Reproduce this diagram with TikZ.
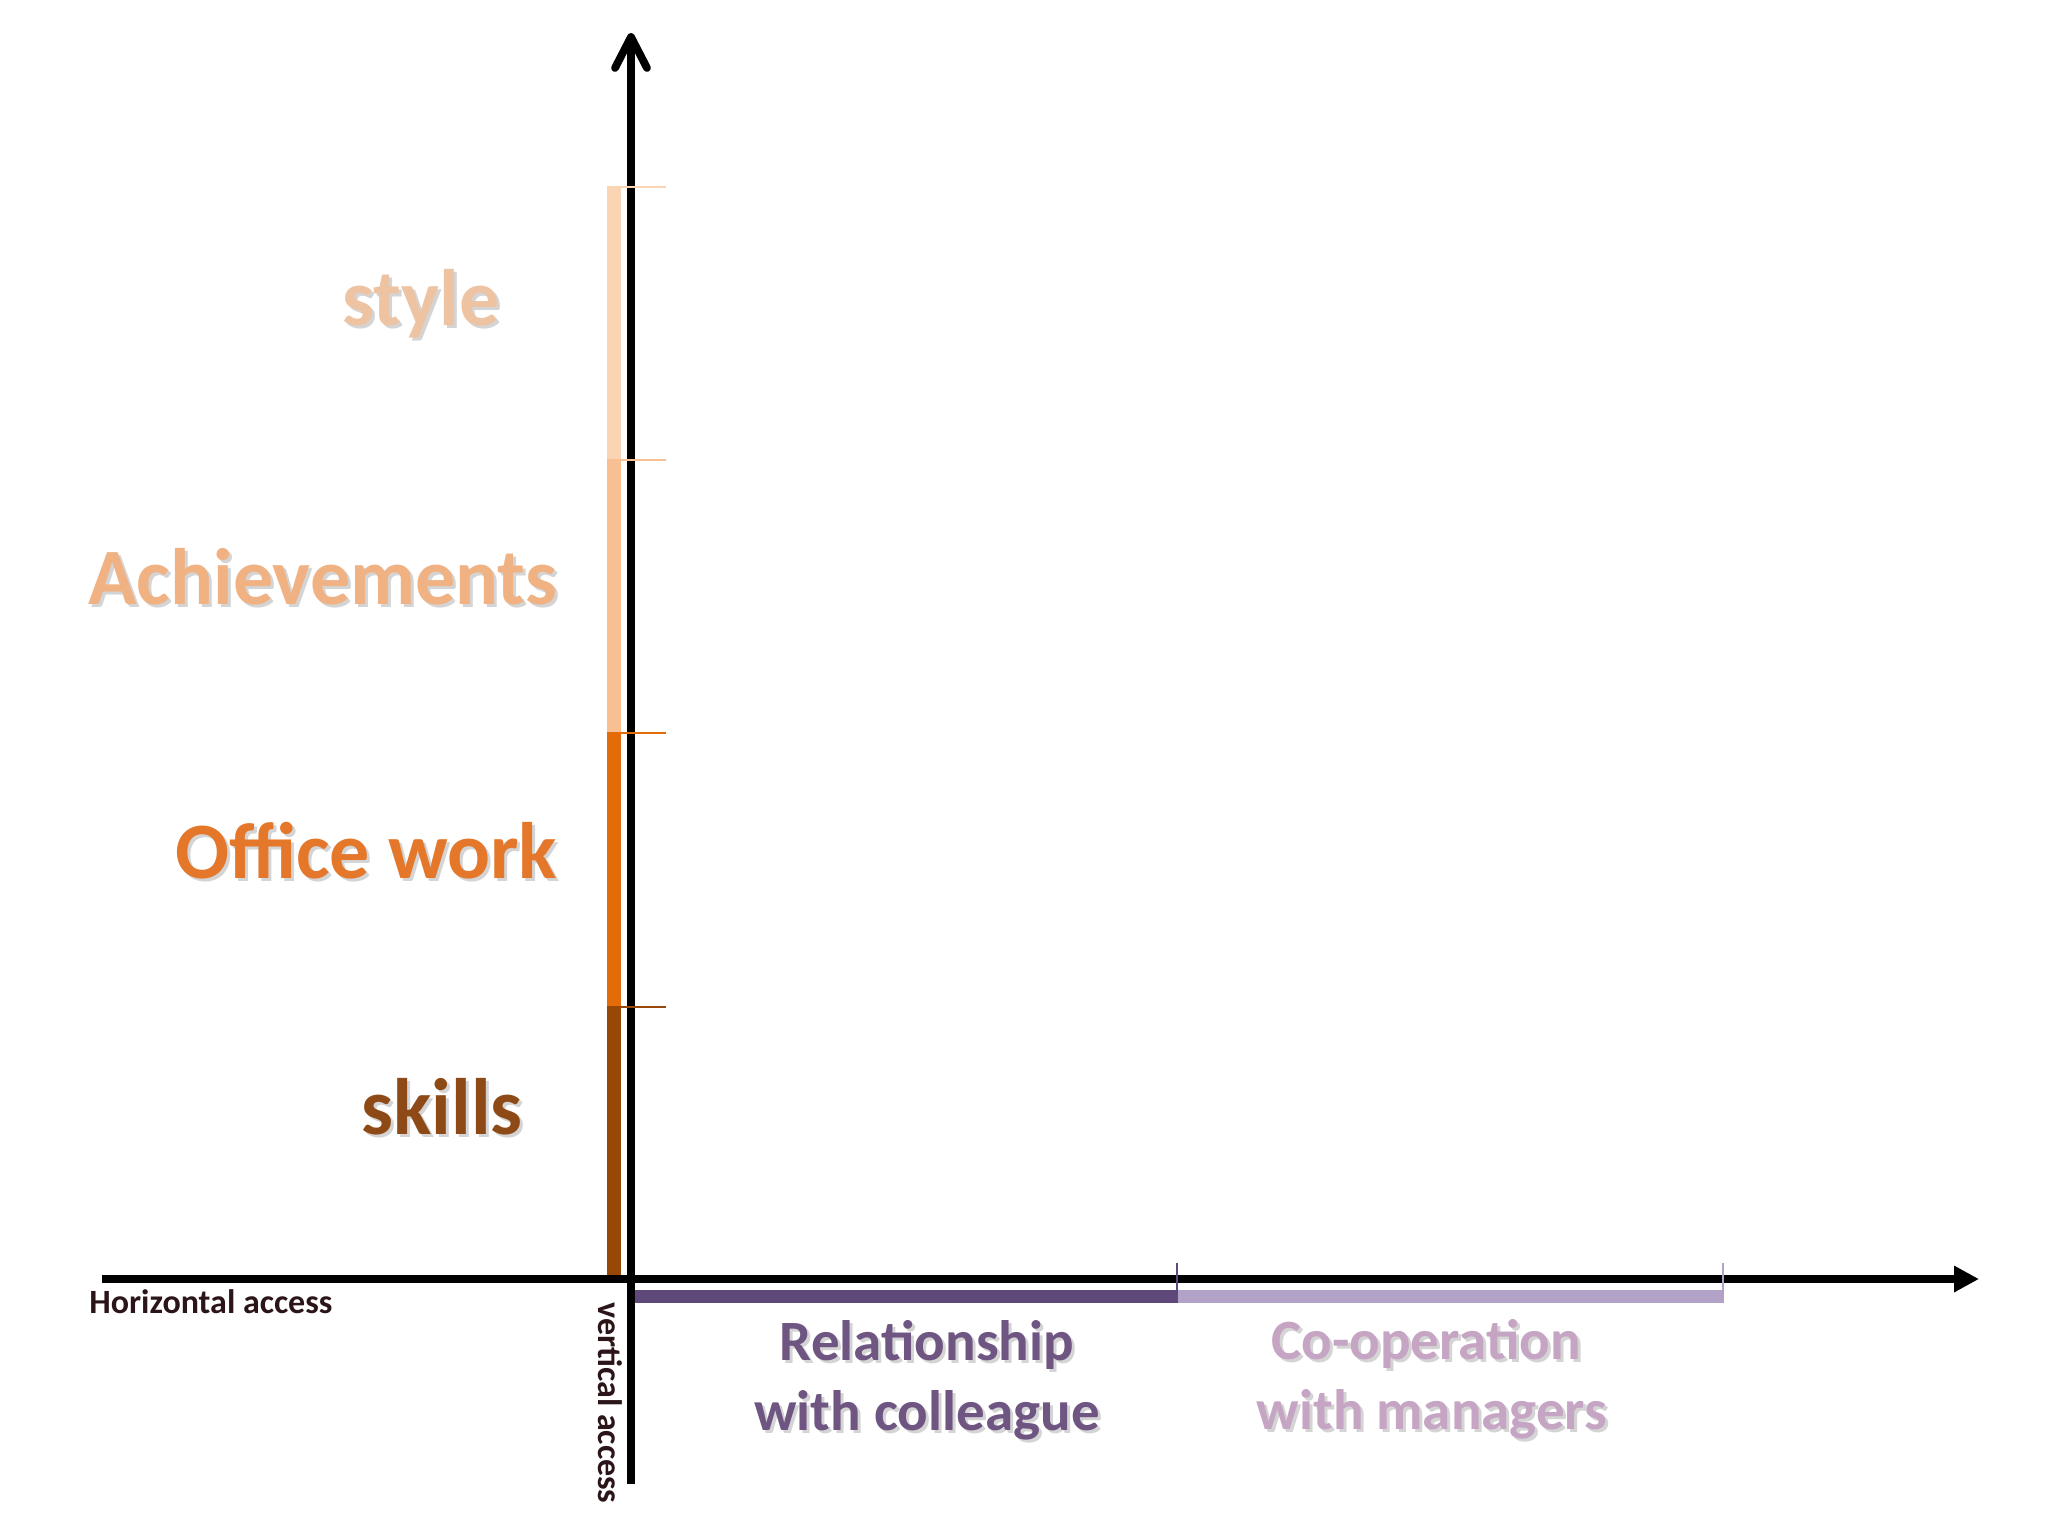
\documentclass[tikz,border=0pt]{standalone}
\usepackage{fontspec}
\setmainfont{Carlito}
\usetikzlibrary{arrows.meta}
\definecolor{barStyle}{HTML}{FBD4B4}
\definecolor{barAch}{HTML}{F8BF92}
\definecolor{barOff}{HTML}{E36C09}
\definecolor{barSk}{HTML}{974806}
\definecolor{barRel}{HTML}{5F497A}
\definecolor{barCoop}{HTML}{B2A2C7}
\definecolor{txtStyle}{HTML}{EEC3A2}
\definecolor{txtAch}{HTML}{F0B282}
\definecolor{txtOff}{HTML}{E4772A}
\definecolor{txtSk}{HTML}{8E4A16}
\definecolor{txtRel}{HTML}{6E5582}
\definecolor{txtCoop}{HTML}{C6A4C4}
\definecolor{txtDark}{HTML}{2B1518}
\tikzset{
  axisline/.style={line width=3.9pt, black},
  bigtxt/.style={inner sep=0pt, anchor=base, font=\fontsize{40}{48}\selectfont\bfseries},
  midtxt/.style={inner sep=0pt, anchor=base, font=\fontsize{28.5}{34}\selectfont\bfseries},
  smalltxt/.style={inner sep=0pt, font=\fontsize{17}{20}\selectfont\bfseries, text=txtDark},
  shadowtxt/.style={text=black, opacity=0.17},
  vtick/.style={line width=1.3pt},
  htick/.style={line width=1pt}
}
\begin{document}
\begin{tikzpicture}[x=0.5pt,y=-0.5pt]
\useasboundingbox[fill=white] (0,0) rectangle (2048,1536);

% coloured bars along the vertical axis
\fill[barStyle] (607,187) rectangle (621,460);
\fill[barAch]   (607,460) rectangle (621,733);
\fill[barOff]   (607,733) rectangle (621,1007);
\fill[barSk]    (607,1007) rectangle (621,1280);

% coloured bars along the horizontal axis
\fill[barRel]  (632,1290) rectangle (1177,1303);
\fill[barCoop] (1177,1290) rectangle (1723,1303);

% axes
\coordinate (ytop) at (631,37);
\coordinate (ybot) at (631,1484);
\coordinate (xleft) at (102,1279);
\coordinate (xright) at (1979,1279);
\draw[axisline] (ybot) -- (631,41);
\draw[axisline, line cap=round, line join=round] (615,68) -- (ytop) -- (647,68);
\draw[axisline, -{Triangle[length=12.5pt,width=12.5pt]}] (xleft) -- (xright);

% ticks on the vertical axis
\draw[vtick, barStyle] (607,187) -- (666,187);
\draw[vtick, barAch]   (607,460) -- (666,460);
\draw[vtick, barOff]   (607,733) -- (666,733);
\draw[vtick, barSk]    (607,1007) -- (666,1007);

% ticks on the horizontal axis
\draw[htick, barRel]  (1177,1263) -- (1177,1303);
\draw[htick, barCoop] (1723,1263) -- (1723,1303);

% vertical labels (shadows first)
\node[bigtxt, shadowtxt] (styleS) at (424,328) {style};
\node[bigtxt, text=txtStyle] (style) at (421,325) {style};
\node[bigtxt, shadowtxt] (achS) at (326,607) {Achievements};
\node[bigtxt, text=txtAch] (ach) at (323,604) {Achievements};
\node[bigtxt, shadowtxt] (offS) at (369,881) {Office work};
\node[bigtxt, text=txtOff] (off) at (366,878) {Office work};
\node[bigtxt, shadowtxt] (skS) at (445,1137) {skills};
\node[bigtxt, text=txtSk] (sk) at (442,1134) {skills};

% horizontal labels
\node[midtxt, shadowtxt] (rel1S) at (930,1363) {Relationship};
\node[midtxt, text=txtRel] (rel1) at (927,1360) {Relationship};
\node[midtxt, shadowtxt] (rel2S) at (930,1433) {with colleague};
\node[midtxt, text=txtRel] (rel2) at (927,1430) {with colleague};
\node[midtxt, shadowtxt] (coop1S) at (1429,1362) {Co-operation};
\node[midtxt, text=txtCoop] (coop1) at (1426,1359) {Co-operation};
\node[midtxt, shadowtxt] (coop2S) at (1435,1432) {with managers};
\node[midtxt, text=txtCoop] (coop2) at (1432,1429) {with managers};

% axis names
\node[smalltxt, anchor=base west] (hacc) at (89,1313) {Horizontal access};
\node[smalltxt, anchor=base west, rotate=-90] (vacc) at (598,1302) {vertical access};
\end{tikzpicture}
\end{document}
